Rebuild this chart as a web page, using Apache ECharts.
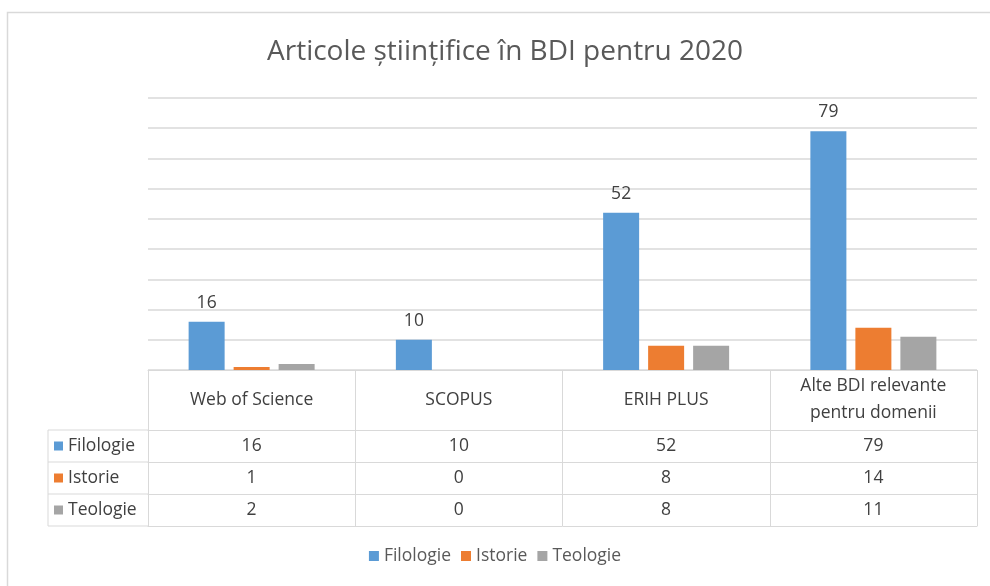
<!DOCTYPE html>
<html>
<head>
    <meta charset="utf-8">
    <title></title>
    <script src="https://cdn.jsdelivr.net/npm/echarts@6/dist/echarts.min.js"></script>
</head>
<body style="margin:0;background:#fff;">
<div id="main" style="width: 990px;height:586px;"></div>
<script type="text/javascript">
var categories = ['Web of Science', 'SCOPUS', 'ERIH PLUS', 'Alte BDI relevante\npentru domenii'];
var seriesNames = ['Filologie', 'Istorie', 'Teologie'];
var filologie = [16, 10, 52, 79];
var istorie = [1, 0, 8, 14];
var teologie = [2, 0, 8, 11];
var colors = ['#5B9BD5', '#ED7D31', '#A5A5A5'];

var font = 'Open Sans';
var lineCol = '#d9d9d9';
var gLeft = 148, gRight = 977, gTop = 98, gBottom = 370;
var headerH = 60, rowH = 32;

var myChart = echarts.init(document.getElementById('main'));

var rows = [filologie, istorie, teologie];
// one extra category axis per table row, just under the plot
var xAxes = [{
    type: 'category',
    data: categories,
    position: 'bottom',
    axisLine: {lineStyle: {color: lineCol, width: 1}},
    axisTick: {show: true, length: headerH + rowH * 3, lineStyle: {color: lineCol}},
    axisLabel: {interval: 0, margin: headerH / 2, verticalAlign: 'middle', lineHeight: 27,
        color: '#404040', fontSize: 17.5, fontFamily: font}
}];
rows.forEach(function (r, i) {
    xAxes.push({
        type: 'category',
        data: r.map(String),
        position: 'bottom',
        offset: headerH + rowH * i,
        axisLine: {lineStyle: {color: lineCol}},
        axisTick: {show: false},
        axisLabel: {interval: 0, margin: rowH / 2, verticalAlign: 'middle',
            color: '#404040', fontSize: 17.5, fontFamily: font}
    });
});
xAxes.push({
    type: 'category',
    data: categories,
    position: 'bottom',
    offset: headerH + rowH * 3,
    axisLine: {lineStyle: {color: lineCol}},
    axisTick: {show: false},
    axisLabel: {show: false}
});

var series = [filologie, istorie, teologie].map(function (d, i) {
    return {
        name: seriesNames[i],
        type: 'bar',
        data: d,
        barWidth: 36,
        barGap: '25%',
        itemStyle: {color: colors[i]},
        label: {show: i === 0, position: 'top', distance: 10, color: '#404040',
            fontSize: 17.5, fontFamily: font}
    };
});

var tBottom = gBottom + headerH + rowH * 3;
var borders = [];
for (var k = 0; k <= 3; k++) {
    var y = gBottom + headerH + rowH * k;
    borders.push({type: 'line', shape: {x1: 48, y1: y, x2: gLeft, y2: y}, style: {stroke: lineCol, lineWidth: 1}});
}
borders.push({type: 'line', shape: {x1: 48, y1: gBottom + headerH, x2: 48, y2: tBottom}, style: {stroke: lineCol, lineWidth: 1}});
borders.push({type: 'rect', shape: {x: 7.5, y: 12.5, width: 1200, height: 800}, style: {fill: null, stroke: lineCol, lineWidth: 1.5}, z: -1});

myChart.setOption({
    animation: false,
    color: colors,
    title: {
        text: 'Articole științifice în BDI pentru 2020',
        left: 262, top: 33,
        textStyle: {color: '#595959', fontSize: 28, fontWeight: 'normal', fontFamily: font}
    },
    legend: [{
        data: seriesNames,
        bottom: 16,
        left: 'center',
        icon: 'rect', itemWidth: 10, itemHeight: 10, itemGap: 10,
        textStyle: {color: '#595959', fontSize: 17.5, fontFamily: font}
    }, {
        data: seriesNames,
        orient: 'vertical',
        left: 54, top: gBottom + headerH + 6,
        icon: 'rect', itemWidth: 9, itemHeight: 9, itemGap: 12, padding: 0,
        textStyle: {color: '#404040', fontSize: 17.5, lineHeight: 20, fontFamily: font}
    }],
    grid: {left: gLeft, right: 990 - gRight, top: gTop, bottom: 586 - gBottom},
    xAxis: xAxes,
    yAxis: {
        type: 'value', min: 0, max: 90, interval: 10,
        axisLabel: {show: false}, axisLine: {show: false}, axisTick: {show: false},
        splitLine: {lineStyle: {color: lineCol, width: 1.5}}
    },
    series: series,
    graphic: borders
});
</script>
</body>
</html>
